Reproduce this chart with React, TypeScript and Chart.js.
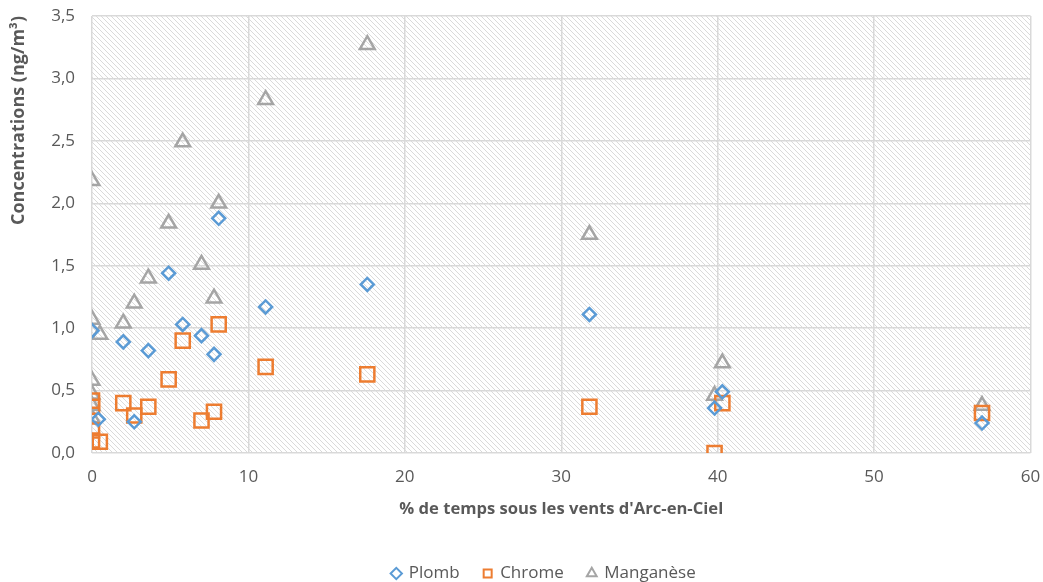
import React, { useEffect, useRef } from "react";
import { Chart, registerables } from "chart.js";

Chart.register(...registerables);

const plombX = [0, 0.4, 2, 2.7, 3.6, 4.9, 5.8, 7, 7.8, 8.1, 11.1, 17.6, 31.8, 39.8, 40.3, 56.9];
const plombY = [0.98, 0.27, 0.89, 0.25, 0.82, 1.44, 1.03, 0.94, 0.79, 1.88, 1.17, 1.35, 1.11, 0.36, 0.49, 0.24];

const chromeX = [0, 0, 0, 0, 0.5, 2, 2.7, 3.6, 4.9, 5.8, 7, 7.8, 8.1, 11.1, 17.6, 31.8, 39.8, 40.3, 56.9];
const chromeY = [0.42, 0.37, 0.18, 0.1, 0.09, 0.4, 0.3, 0.37, 0.59, 0.9, 0.26, 0.33, 1.03, 0.69, 0.63, 0.37, 0.0, 0.4, 0.32];

const mnX = [0, 0, 0, 0, 0, 0, 0.5, 2, 2.7, 3.6, 4.9, 5.8, 7, 7.8, 8.1, 11.1, 17.6, 31.8, 39.8, 40.3, 56.9];
const mnY = [2.18, 1.07, 0.58, 0.47, 0.38, 0.28, 0.95, 1.04, 1.2, 1.4, 1.84, 2.49, 1.51, 1.24, 2.0, 2.83, 3.27, 1.75, 0.46, 0.72, 0.38];

const xTicks = [0, 10, 20, 30, 40, 50, 60];
const yTicks = [0, 0.5, 1, 1.5, 2, 2.5, 3, 3.5];

const seriesNames = ["Plomb", "Chrome", "Manganèse"];
const xTitle = "% de temps sous les vents d'Arc-en-Ciel";
const yTitle = "Concentrations (ng/m³)";

const zip = (xs: number[], ys: number[]) => xs.map((x, i) => ({ x, y: ys[i] }));

const hatchPlugin = {
  id: "hatch",
  afterLayout(chart: any) {
    const lg = chart.legend;
    if (lg) {
      lg.left += 28;
      lg.right += 28;
    }
  },
  beforeDraw(chart: any) {
    const { ctx, chartArea } = chart;
    if (!chartArea) return;
    const n = 5;
    const p = document.createElement("canvas");
    p.width = n;
    p.height = n;
    const pc = p.getContext("2d")!;
    pc.fillStyle = "#ffffff";
    pc.fillRect(0, 0, n, n);
    pc.strokeStyle = "#dadada";
    pc.lineWidth = 1;
    pc.beginPath();
    pc.moveTo(-1, -1);
    pc.lineTo(n + 1, n + 1);
    pc.moveTo(-1, n - 1);
    pc.lineTo(1, n + 1);
    pc.moveTo(n - 1, -1);
    pc.lineTo(n + 1, 1);
    pc.stroke();
    const pattern = ctx.createPattern(p, "repeat");
    ctx.save();
    ctx.fillStyle = pattern;
    ctx.fillRect(chartArea.left, chartArea.top, chartArea.right - chartArea.left, chartArea.bottom - chartArea.top);
    ctx.restore();
  },
};

export default function App() {
  const ref = useRef<HTMLCanvasElement>(null);
  useEffect(() => {
    document.body.style.margin = "0";
    const font = "'Open Sans', 'Noto Sans', sans-serif";
    const chart = new Chart(ref.current!, {
      type: "scatter",
      data: {
        datasets: [
          {
            label: seriesNames[0],
            data: zip(plombX, plombY),
            pointStyle: "rectRot",
            pointRadius: 6.5,
            borderColor: "#5B9BD5",
            backgroundColor: "rgba(255,255,255,0)",
            borderWidth: 2.5,
          },
          {
            label: seriesNames[1],
            data: zip(chromeX, chromeY),
            pointStyle: "rect",
            pointRadius: 10,
            borderColor: "#ED7D31",
            backgroundColor: "rgba(255,255,255,0)",
            borderWidth: 2.5,
          },
          {
            label: seriesNames[2],
            data: zip(mnX, mnY),
            pointStyle: "triangle",
            pointRadius: 8.5,
            borderColor: "#A5A5A5",
            backgroundColor: "rgba(255,255,255,0)",
            borderWidth: 2.5,
          },
        ],
      },
      options: {
        animation: false,
        responsive: false,
        layout: { padding: { top: 16, right: 11, left: 0, bottom: -10 } },
        plugins: {
          tooltip: { enabled: false },
          legend: {
            position: "bottom",
            labels: {
              usePointStyle: true,
              boxHeight: 8,
              boxWidth: 8,
              color: "#595959",
              font: { family: font, size: 17 },
              padding: 24,
              generateLabels: (c: any) =>
                c.data.datasets.map((d: any, i: number) => ({
                  text: d.label,
                  fillStyle: "#ffffff",
                  strokeStyle: d.borderColor,
                  lineWidth: 2,
                  pointStyle: d.pointStyle,
                  datasetIndex: i,
                  fontColor: "#595959",
                })),
            },
          },
        },
        scales: {
          x: {
            type: "linear",
            min: 0,
            max: 60,
            afterBuildTicks: (s: any) => {
              s.ticks = xTicks.map((v) => ({ value: v }));
            },
            ticks: { color: "#595959", font: { family: font, size: 17 }, padding: 14 },
            grid: { color: "#d9d9d9", lineWidth: 1.5, drawTicks: false },
            border: { display: false },
            title: {
              display: true,
              text: xTitle,
              color: "#595959",
              font: { family: font, size: 16.6, weight: "bold" },
              padding: { top: 4, bottom: 22 },
            },
            afterFit: (s: any) => {
              s.height = 88;
              s.paddingLeft = 0;
              s.paddingRight = 0;
            },
          },
          y: {
            type: "linear",
            min: 0,
            max: 3.5,
            afterBuildTicks: (s: any) => {
              s.ticks = yTicks.map((v) => ({ value: v }));
            },
            ticks: {
              color: "#595959",
              font: { family: font, size: 17 },
              padding: 17,
              callback: (v: any) => Number(v).toFixed(1).replace(".", ","),
            },
            grid: { color: "#d9d9d9", lineWidth: 1.5, drawTicks: false },
            border: { display: false },
            title: {
              display: true,
              text: yTitle,
              align: "end",
              color: "#595959",
              font: { family: font, size: 18, weight: "bold" },
              padding: 8,
            },
            afterFit: (s: any) => {
              s.width = 92;
              s.paddingTop = 0;
              s.paddingBottom = 0;
            },
          },
        },
      },
      plugins: [hatchPlugin],
    });
    return () => chart.destroy();
  }, []);
  return (
    <div style={{ position: "absolute", left: 0, top: 0, width: 1043, height: 582 }}>
      <canvas ref={ref} width={1043} height={582} />
    </div>
  );
}
